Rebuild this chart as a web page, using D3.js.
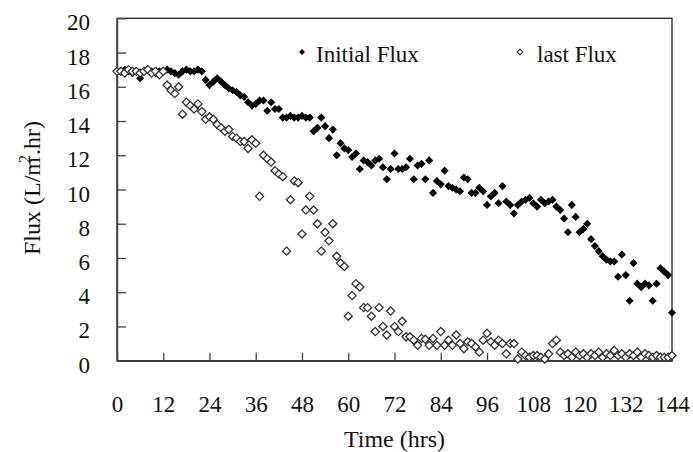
<!DOCTYPE html>
<html>
<head>
<meta charset="utf-8">
<script src="https://cdn.jsdelivr.net/npm/d3@7"></script>
<style>
  html, body { margin: 0; padding: 0; background: #fff; }
  svg { display: block; font-family: "Liberation Serif", "Times New Roman", serif; }
</style>
</head>
<body>
<svg id="chart" width="693" height="452"></svg>
<script>
// Sampling times (hours)
const hours = [
  0,1,2,3,4,5,6,7,8,9,10,11,12,13,14,15,16,17,18,19,20,21,22,23,24,
  25,26,27,28,29,30,31,32,33,34,35,36,37,38,39,40,41,42,43,44,45,46,47,48,
  49,50,51,52,53,54,55,56,57,58,59,60,61,62,63,64,65,66,67,68,69,70,71,72,
  73,74,75,76,77,78,79,80,81,82,83,84,85,86,87,88,89,90,91,92,93,94,95,96,
  97,98,99,100,101,102,103,104,105,106,107,108,109,110,111,112,113,114,115,116,117,118,119,120,
  121,122,123,124,125,126,127,128,129,130,131,132,133,134,135,136,137,138,139,140,141,142,143,144
];

// Flux with the fresh membrane (L/m2.hr)
const initialFlux = [
  16.9,16.9,17.0,16.9,16.8,16.9,16.5,16.9,17.0,16.9,16.8,16.9,16.9,17.0,16.9,16.8,16.7,16.9,17.0,16.9,16.9,17.0,16.9,16.4,16.1,
  16.3,16.5,16.3,16.1,15.9,15.8,15.7,15.5,15.4,15.1,14.9,15.0,15.2,15.2,14.6,15.1,14.7,14.7,14.2,14.2,14.3,14.2,14.2,14.3,
  14.2,14.2,13.4,13.6,14.2,13.7,13.0,13.5,12.0,12.7,12.4,12.3,11.9,12.1,11.2,11.7,11.6,11.4,11.7,11.8,11.3,10.6,11.2,12.1,
  11.2,11.2,11.3,11.8,10.6,11.4,11.5,10.6,11.7,9.8,10.5,10.3,11.1,10.2,10.1,10.0,9.9,10.7,10.6,9.8,9.8,10.1,9.9,9.1,
  9.6,9.8,9.2,10.2,9.3,9.1,8.6,9.1,9.3,9.4,9.5,9.2,9.0,9.4,9.2,9.3,9.4,9.0,8.8,8.3,7.5,9.1,8.4,7.5,
  7.7,8.0,7.1,6.7,6.4,6.1,5.9,5.8,5.8,4.9,6.2,5.0,3.5,5.7,4.5,4.3,4.5,4.4,3.5,4.5,5.4,5.2,5.0,2.8
];

// Flux at the end of the run (L/m2.hr)
const lastFlux = [
  16.9,16.9,16.8,17.0,16.9,16.9,16.8,16.9,17.0,16.8,16.9,16.7,16.9,16.1,15.8,15.6,16.0,14.4,15.1,14.9,14.7,15.0,14.55,14.1,14.25,
  14.1,13.8,13.6,13.4,13.5,13.1,13.0,12.8,12.8,12.4,12.9,12.7,9.6,12.0,11.8,11.6,11.1,10.9,10.75,6.4,9.4,10.5,10.4,7.4,
  8.8,9.6,8.8,8.0,6.4,7.5,7.0,8.0,6.1,5.7,5.5,2.6,3.8,4.5,4.3,3.1,3.1,2.6,1.7,3.1,2.0,1.5,2.9,2.0,
  1.7,2.3,1.4,1.4,1.2,0.9,1.3,1.25,0.9,1.3,0.9,1.7,0.9,1.2,0.9,1.5,1.0,0.7,1.1,1.0,0.8,0.5,1.2,1.6,
  1.1,0.9,1.2,1.0,0.4,1.0,1.0,0.1,0.5,0.3,0.2,0.3,0.3,0.2,0.1,0.4,1.0,1.2,0.5,0.3,0.4,0.2,0.5,0.3,
  0.4,0.2,0.4,0.3,0.5,0.2,0.4,0.3,0.6,0.3,0.4,0.2,0.4,0.3,0.5,0.2,0.4,0.3,0.2,0.3,0.2,0.2,0.2,0.3
];

const xTicks = [0, 12, 24, 36, 48, 60, 72, 84, 96, 108, 120, 132, 144];
const yTicks = [0, 2, 4, 6, 8, 10, 12, 14, 16, 18, 20];
const seriesNames = ["Initial Flux", "last Flux"];

const svg = d3.select("#chart");
const plot = { left: 117, right: 672, top: 18.3, bottom: 360.7 };

const x = d3.scaleLinear().domain([0, 144]).range([plot.left, plot.right]);
const y = d3.scaleLinear().domain([0, 20]).range([plot.bottom, plot.top]);

const axisColor = "#444";

// frame (top and right edges)
svg.append("rect")
  .attr("x", plot.left).attr("y", plot.top)
  .attr("width", plot.right - plot.left).attr("height", plot.bottom - plot.top)
  .attr("fill", "none").attr("stroke", "#222").attr("stroke-width", 1.3);

// y axis with inward ticks
const gy = svg.append("g")
  .attr("transform", `translate(${plot.left},0)`)
  .call(d3.axisLeft(y).tickValues(yTicks).tickSizeInner(-9).tickSizeOuter(0).tickPadding(27));
gy.select(".domain").attr("stroke", axisColor).attr("stroke-width", 1.5);
gy.selectAll(".tick line").attr("stroke", axisColor).attr("stroke-width", 1.3);
gy.selectAll(".tick text")
  .attr("font-size", 23).attr("fill", "#111")
  .attr("font-family", "Liberation Serif, serif")
  .attr("dy", "0.5em");

// x axis with inward ticks
const gx = svg.append("g")
  .attr("transform", `translate(0,${plot.bottom})`)
  .call(d3.axisBottom(x).tickValues(xTicks).tickSizeInner(-8).tickSizeOuter(0).tickPadding(0));
gx.select(".domain").attr("stroke", axisColor).attr("stroke-width", 1.5);
gx.selectAll(".tick line").attr("stroke", axisColor).attr("stroke-width", 1.3);
gx.selectAll(".tick text")
  .attr("font-size", 23).attr("fill", "#111")
  .attr("font-family", "Liberation Serif, serif")
  .attr("y", 51).attr("dy", 0);

// diamond marker
const diamond = d3.symbol().type(d3.symbolDiamond2).size(42);

const initialPts = hours.map((h, i) => ({ h, v: initialFlux[i] }));
const lastPts = hours.map((h, i) => ({ h, v: lastFlux[i] }));

svg.append("g").selectAll("path")
  .data(initialPts).join("path")
  .attr("d", diamond)
  .attr("transform", d => `translate(${x(d.h)},${y(d.v)})`)
  .attr("fill", "#000");

svg.append("g").selectAll("path")
  .data(lastPts).join("path")
  .attr("d", diamond)
  .attr("transform", d => `translate(${x(d.h)},${y(d.v)})`)
  .attr("fill", "#fff").attr("stroke", "#333").attr("stroke-width", 1.3);

// legend
const legend = svg.append("g");
const smallDiamond = d3.symbol().type(d3.symbolDiamond2).size(22);
legend.append("path").attr("d", smallDiamond)
  .attr("transform", "translate(302,52)").attr("fill", "#000");
legend.append("text").attr("x", 316).attr("y", 61.5)
  .attr("font-size", 23).attr("fill", "#111").text(seriesNames[0]);
legend.append("path").attr("d", smallDiamond)
  .attr("transform", "translate(520,52)").attr("fill", "#fff")
  .attr("stroke", "#333").attr("stroke-width", 1.2);
legend.append("text").attr("x", 537).attr("y", 61.5)
  .attr("font-size", 23).attr("fill", "#111").text(seriesNames[1]);

// axis titles
svg.append("text")
  .attr("x", (plot.left + plot.right) / 2).attr("y", 447)
  .attr("text-anchor", "middle").attr("font-size", 24).attr("fill", "#111")
  .text("Time (hrs)");

const yTitle = svg.append("text")
  .attr("transform", "translate(40,188) rotate(-90)")
  .attr("text-anchor", "middle").attr("font-size", 24).attr("fill", "#111");
yTitle.append("tspan").text("Flux (L/m");
yTitle.append("tspan").attr("font-size", 16).attr("dy", -10).attr("dx", -6).text("2");
yTitle.append("tspan").attr("dy", 10).text(".hr)");
</script>
</body>
</html>
